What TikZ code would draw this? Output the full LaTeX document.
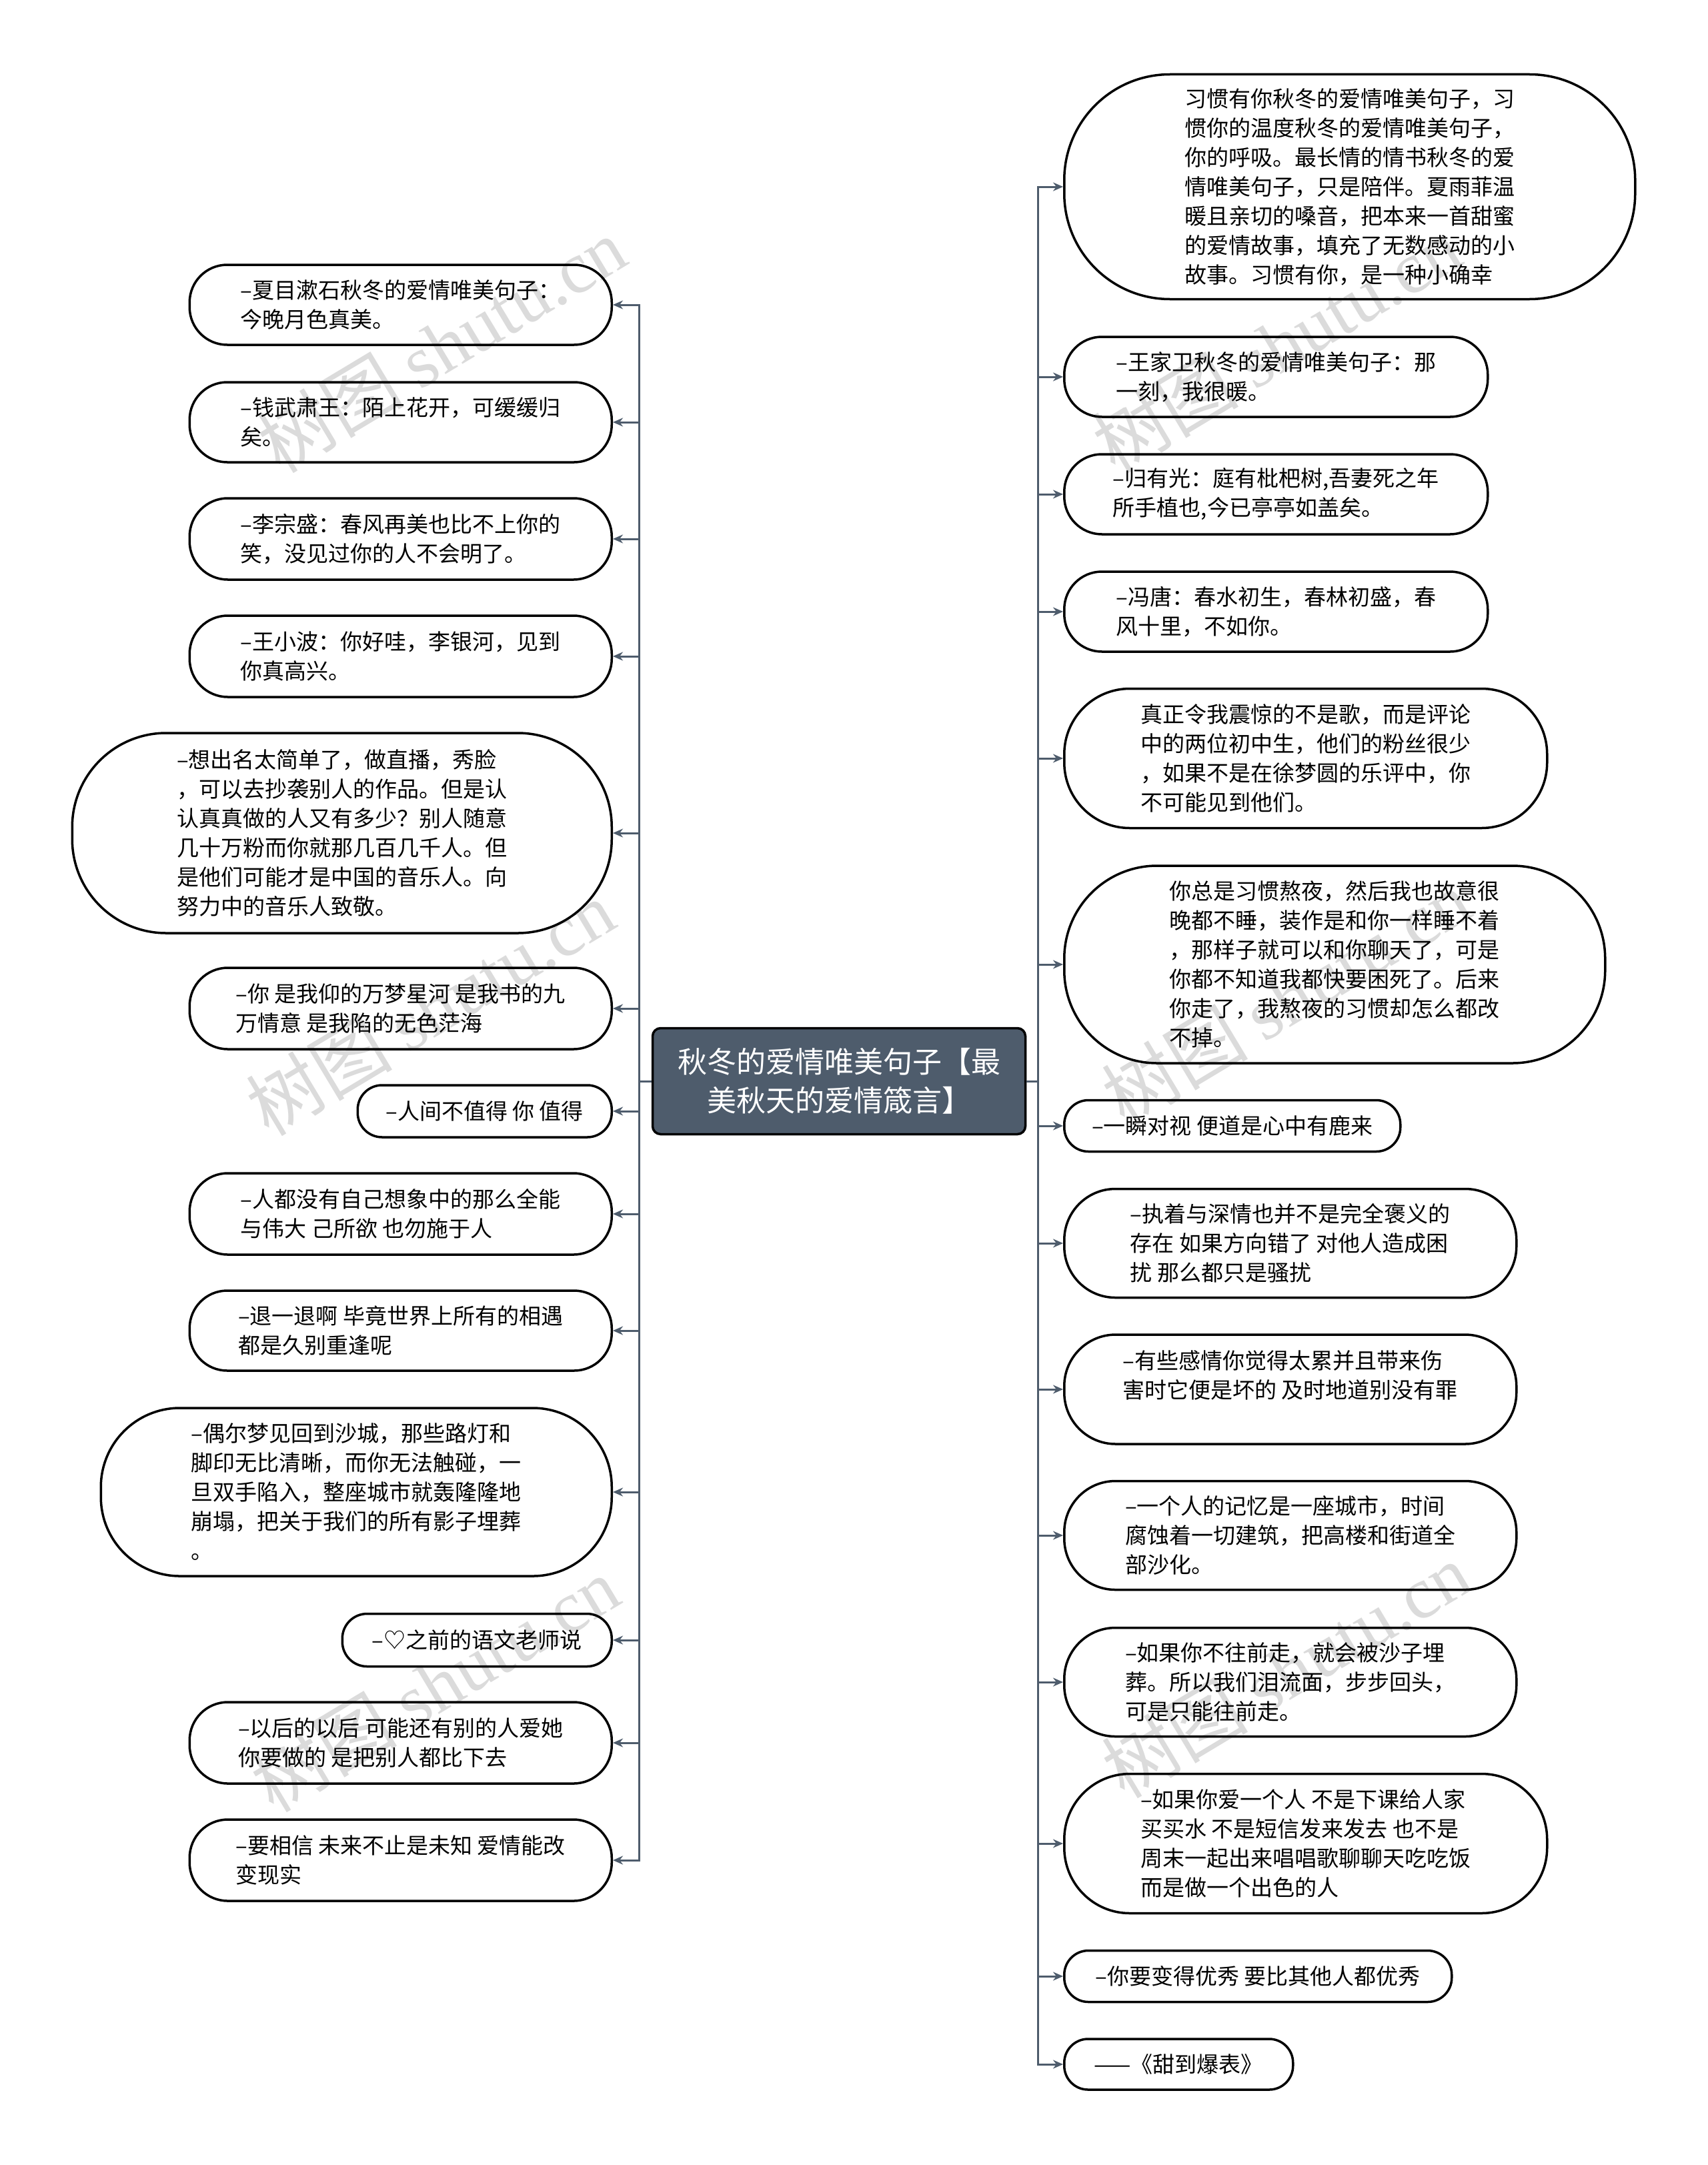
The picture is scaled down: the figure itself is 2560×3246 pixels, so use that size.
\documentclass[tikz,border=0pt]{standalone}
\usepackage{fontspec}
\setmainfont{Noto Sans CJK SC}
\newfontfamily\wmserif{Liberation Serif}
\usetikzlibrary{arrows.meta, positioning}
\definecolor{cRoot}{RGB}{78,92,108}
\definecolor{cLine}{RGB}{78,92,108}
\tikzset{
	leaf/.style 2 args={rectangle, draw=black, line width=3.5pt, inner sep=0pt, align=left,
		minimum width=#1pt, minimum height=#2pt, rounded corners=0.47*#2pt,
		font=\fontsize{33}{44}\selectfont},
	rootbox/.style={rectangle, draw=black, line width=3.5pt, rounded corners=12pt, fill=cRoot,
		text=white, align=center, minimum width=559pt, minimum height=159pt,
		font=\fontsize{44}{58}\selectfont},
	link/.style={draw=cLine, line width=3pt, -{Stealth[length=15pt, width=13pt]}},
	wmark/.style={text=black!14, rotate=31, font=\fontsize{110}{110}\selectfont},
}
\begin{document}
\begin{tikzpicture}[x=1pt, y=-1pt]
	\useasboundingbox (0,0) rectangle (2560,3246);
	\fill[white] (0,0) rectangle (2560,3246);
	% watermarks
	\node[wmark] (wm1) at (662,517) {树图 {\wmserif shutu.cn}};
	\node[wmark] (wm2) at (645,1511) {树图 {\wmserif shutu.cn}};
	\node[wmark] (wm3) at (652,2525) {树图 {\wmserif shutu.cn}};
	\node[wmark] (wm4) at (1914,517) {树图 {\wmserif shutu.cn}};
	\node[wmark] (wm5) at (1928,1495) {树图 {\wmserif shutu.cn}};
	\node[wmark] (wm6) at (1928,2504) {树图 {\wmserif shutu.cn}};

	\node[rootbox] (root) at (1258,1621) {秋冬的爱情唯美句子【最\\美秋天的爱情箴言】};
	\coordinate (trunkL) at (958,0);
	\coordinate (trunkR) at (1556,0);

	% left side
	\node[leaf={633}{120}, anchor=east] (l1) at (919,457) {–夏目漱石秋冬的爱情唯美句子：\\今晚月色真美。};
	\node[leaf={633}{120}, anchor=east] (l2) at (919,633) {–钱武肃王：陌上花开，可缓缓归\\矣。};
	\node[leaf={633}{122}, anchor=east] (l3) at (919,808) {–李宗盛：春风再美也比不上你的\\笑，没见过你的人不会明了。};
	\node[leaf={633}{122}, anchor=east] (l4) at (919,984) {–王小波：你好哇，李银河，见到\\你真高兴。};
	\node[leaf={809}{300}, anchor=east] (l5) at (919,1249) {–想出名太简单了，做直播，秀脸\\，可以去抄袭别人的作品。但是认\\认真真做的人又有多少？别人随意\\几十万粉而你就那几百几千人。但\\是他们可能才是中国的音乐人。向\\努力中的音乐人致敬。};
	\node[leaf={633}{122}, anchor=east] (l6) at (919,1512) {–你 是我仰的万梦星河 是我书的九\\万情意 是我陷的无色茫海};
	\node[leaf={381}{78}, anchor=east] (l7) at (919,1666) {–人间不值得 你 值得};
	\node[leaf={633}{122}, anchor=east] (l8) at (919,1820) {–人都没有自己想象中的那么全能\\与伟大 己所欲 也勿施于人};
	\node[leaf={633}{120}, anchor=east] (l9) at (919,1995) {–退一退啊 毕竟世界上所有的相遇\\都是久别重逢呢};
	\node[leaf={766}{252}, anchor=east] (l10) at (919,2237) {–偶尔梦见回到沙城，那些路灯和\\脚印无比清晰，而你无法触碰，一\\旦双手陷入，整座城市就轰隆隆地\\崩塌，把关于我们的所有影子埋葬\\。};
	\node[leaf={404}{79}, anchor=east] (l11) at (919,2459) {–♡之前的语文老师说};
	\node[leaf={633}{122}, anchor=east] (l12) at (919,2613) {–以后的以后 可能还有别的人爱她\\你要做的 是把别人都比下去};
	\node[leaf={633}{122}, anchor=east] (l13) at (919,2789) {–要相信 未来不止是未知 爱情能改\\变现实};

	% right side
	\node[leaf={856}{337}, anchor=west] (r1) at (1594,280) {习惯有你秋冬的爱情唯美句子，习\\惯你的温度秋冬的爱情唯美句子，\\你的呼吸。最长情的情书秋冬的爱\\情唯美句子，只是陪伴。夏雨菲温\\暖且亲切的嗓音，把本来一首甜蜜\\的爱情故事，填充了无数感动的小\\故事。习惯有你，是一种小确幸};
	\node[leaf={635}{120}, anchor=west] (r2) at (1594,565) {–王家卫秋冬的爱情唯美句子：那\\一刻，我很暖。};
	\node[leaf={635}{120}, anchor=west] (r3) at (1594,741) {–归有光：庭有枇杷树,吾妻死之年\\所手植也,今已亭亭如盖矣。};
	\node[leaf={635}{120}, anchor=west] (r4) at (1594,917) {–冯唐：春水初生，春林初盛，春\\风十里，不如你。};
	\node[leaf={724}{209}, anchor=west] (r5) at (1594,1137) {真正令我震惊的不是歌，而是评论\\中的两位初中生，他们的粉丝很少\\，如果不是在徐梦圆的乐评中，你\\不可能见到他们。};
	\node[leaf={811}{296}, anchor=west] (r6) at (1594,1446) {你总是习惯熬夜，然后我也故意很\\晚都不睡，装作是和你一样睡不着\\，那样子就可以和你聊天了，可是\\你都不知道我都快要困死了。后来\\你走了，我熬夜的习惯却怎么都改\\不掉。};
	\node[leaf={504}{77}, anchor=west] (r7) at (1594,1688) {–一瞬对视 便道是心中有鹿来};
	\node[leaf={678}{163}, anchor=west] (r8) at (1594,1864) {–执着与深情也并不是完全褒义的\\存在 如果方向错了 对他人造成困\\扰 那么都只是骚扰};
	\node[leaf={678}{164}, anchor=west] (r9) at (1594,2083) {–有些感情你觉得太累并且带来伤\\害时它便是坏的 及时地道别没有罪\\\mbox{}};
	\node[leaf={678}{163}, anchor=west] (r10) at (1594,2302) {–一个人的记忆是一座城市，时间\\腐蚀着一切建筑，把高楼和街道全\\部沙化。};
	\node[leaf={678}{163}, anchor=west] (r11) at (1594,2522) {–如果你不往前走，就会被沙子埋\\葬。所以我们泪流面，步步回头，\\可是只能往前走。};
	\node[leaf={724}{209}, anchor=west] (r12) at (1594,2764) {–如果你爱一个人 不是下课给人家\\买买水 不是短信发来发去 也不是\\周末一起出来唱唱歌聊聊天吃吃饭\\而是做一个出色的人};
	\node[leaf={581}{77}, anchor=west] (r13) at (1594,2963) {–你要变得优秀 要比其他人都优秀};
	\node[leaf={343}{76}, anchor=west] (r14) at (1594,3095) {——《甜到爆表》};

	\foreach \i in {1,...,13}
		\draw[link] (root.west) -- (root.west -| trunkL) |- (l\i.east);
	\foreach \i in {1,...,14}
		\draw[link] (root.east) -- (root.east -| trunkR) |- (r\i.west);
\end{tikzpicture}
\end{document}
